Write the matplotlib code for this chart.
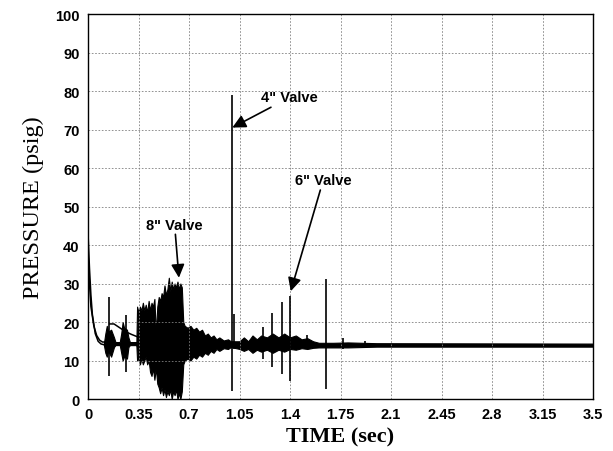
import matplotlib.pyplot as plt

# Initial decay curves (sec, psig)
decay1_t = [0, 0.01, 0.02, 0.03, 0.05, 0.07, 0.09, 0.12, 0.2, 0.3, 0.34]
decay1_p = [43, 34, 27, 22, 17, 15, 14.3, 14, 14, 14.2, 14.5]
decay2_t = [0, 0.01, 0.02, 0.04, 0.06, 0.08, 0.1, 0.12]
decay2_p = [38, 30, 24, 19, 16.5, 15.3, 14.8, 14.8]
decay3_t = [0.15, 0.18, 0.22, 0.26, 0.30, 0.34]
decay3_p = [19.5, 19.5, 18.5, 17.5, 16.8, 16.2]

# Oscillation envelope (upper / lower pressure)
env_t = [0.11, 0.12, 0.13, 0.14, 0.16, 0.18, 0.19, 0.22, 0.23, 0.24, 0.25, 0.27, 0.28,
         0.29, 0.33, 0.335, 0.34, 0.35, 0.36, 0.37, 0.38, 0.39, 0.40, 0.41, 0.42, 0.43,
         0.44, 0.45, 0.46, 0.47, 0.48, 0.49, 0.50, 0.51, 0.52, 0.53, 0.54, 0.55, 0.56,
         0.57, 0.58, 0.59, 0.60, 0.61, 0.62, 0.63, 0.64, 0.65, 0.66, 0.67, 0.69, 0.71,
         0.73, 0.75, 0.77, 0.79, 0.81, 0.83, 0.85, 0.87, 0.89, 0.91, 0.94, 0.97, 0.99,
         1.05, 1.08, 1.11, 1.14, 1.17, 1.20, 1.24, 1.28, 1.32, 1.36, 1.40, 1.44, 1.48,
         1.52, 1.56, 1.60, 1.70, 1.80, 1.90, 2.0, 3.5]
env_hi = [14.5, 17, 19, 17.5, 18, 16, 14.8, 14.8, 17, 20, 18.5, 18, 16,
          14.8, 14.8, 14.5, 24, 22.5, 24, 23, 25, 23, 24.5, 22.5, 25.5, 23,
          25, 24, 26, 17, 24, 26.5, 25.5, 27.5, 26.5, 29.5, 27, 28.5, 31.5,
          28, 30.5, 28.5, 30, 29, 30.5, 28.5, 30, 29, 20, 19, 18.5, 19,
          18, 18.5, 17.5, 18, 16.5, 17, 16, 16.5, 15.5, 16, 15.2, 15.5, 15,
          15, 16, 15, 16.5, 15.5, 16.5, 16, 17, 16, 17, 16, 16.5, 15.5,
          15.8, 15, 14.6, 14.6, 14.7, 14.6, 14.5, 14.4]
env_lo = [14, 12, 11, 12.5, 11, 13.5, 14, 14, 12, 10, 11, 10.5, 13.5,
          14, 14, 14, 10, 10.5, 9, 10.5, 9, 10, 11, 9, 10, 7,
          6, 8, 5, 8, 4, 3, 1.5, 3, 1, 2.5, 0.5, 2, 1,
          2.5, 0, 2, 1, 2.5, 0, 1.5, 0, 2, 9, 10, 10.5, 10,
          11, 10.5, 11.5, 11, 12, 11.5, 12.5, 12, 13, 12.5, 13.2, 13, 13.5,
          13, 12.5, 13, 12, 12.8, 12.3, 12.8, 12, 12.8, 12.3, 13, 12.8, 13.2,
          13, 13.3, 13.4, 13.4, 13.4, 13.5, 13.6, 13.6]

# Isolated pressure spikes
spike_t = [0.145, 0.26, 1.0, 1.015, 1.21, 1.275, 1.345, 1.40, 1.52, 1.65, 1.77, 1.92]
spike_hi = [26.5, 21.8, 79, 22, 18.7, 22.3, 25.2, 26.8, 16.6, 31.2, 15.8, 15]
spike_lo = [6, 7, 2, 13, 10.4, 8.3, 6.5, 4.7, 13, 2.6, 13, 13.5]

xticks = [0, 0.35, 0.7, 1.05, 1.4, 1.75, 2.1, 2.45, 2.8, 3.15, 3.5]
xticklabels = ["0", "0.35", "0.7", "1.05", "1.4", "1.75", "2.1", "2.45", "2.8", "3.15", "3.5"]
yticks = list(range(0, 101, 10))

fig = plt.figure(figsize=(6.13, 4.52), dpi=100)
ax = fig.add_axes([0.1436, 0.115, 0.8238, 0.8518])

ax.plot(decay1_t, decay1_p, color="black", lw=1.1)
ax.plot(decay2_t, decay2_p, color="black", lw=1.1)
ax.plot(decay3_t, decay3_p, color="black", lw=1.1)
ax.fill_between(env_t, env_lo, env_hi, color="black", lw=0.8, edgecolor="black")
ax.vlines(spike_t, spike_lo, spike_hi, color="black", lw=1.2)

arrow = dict(arrowstyle="-|>", color="black", lw=1.2, mutation_scale=20, shrinkA=0, shrinkB=0)
tfont = dict(fontsize=10.5, fontweight="bold", family="Liberation Sans")
ax.annotate('4" Valve', xy=(1.0, 70.5), xytext=(1.2, 76.5), arrowprops=arrow,
            ha="left", va="bottom", **tfont)
ax.annotate('6" Valve', xy=(1.405, 28), xytext=(1.63, 55), arrowprops=arrow,
            ha="center", va="bottom", **tfont)
ax.annotate('8" Valve', xy=(0.63, 31.5), xytext=(0.6, 43.5), arrowprops=arrow,
            ha="center", va="bottom", **tfont)

ax.set_xlim(0, 3.5)
ax.set_ylim(0, 100)
ax.set_xticks(xticks)
ax.set_xticklabels(xticklabels)
ax.set_yticks(yticks)
for lab in ax.get_xticklabels() + ax.get_yticklabels():
    lab.set_fontfamily("Liberation Sans")
    lab.set_fontweight("bold")
    lab.set_fontsize(10.5)
ax.tick_params(length=0, pad=6)
ax.grid(True, color="gray", linestyle=(0, (2, 2)), lw=0.6)
for s in ax.spines.values():
    s.set_linewidth(1.0)

ax.set_xlabel("TIME (sec)", family="Liberation Serif", fontweight="bold", fontsize=16, labelpad=4)
ax.set_ylabel("PRESSURE (psig)", family="Liberation Serif", fontsize=17.5, labelpad=8)

fig.savefig("out.png", dpi=100)
